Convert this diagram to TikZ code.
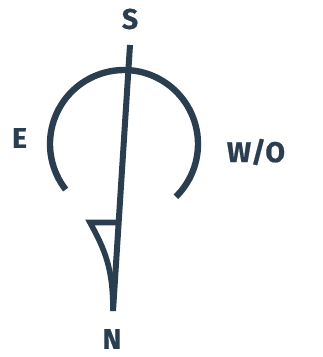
\documentclass[tikz,border=0pt]{standalone}
\usepackage{fontspec}
\setmainfont{Fira Sans}[BoldFont={Fira Sans Bold},BoldFeatures={FakeBold=0.6}]
\definecolor{ink}{HTML}{2B3E50}
\begin{document}
\begin{tikzpicture}[x=1pt,y=-1pt,
  stroke/.style={draw=ink,line width=6.4pt,line cap=butt},
  thinstroke/.style={draw=ink,line width=5.6pt,line join=miter,line cap=butt},
  lab/.style={text=ink,font=\fontsize{28.5}{28.5}\selectfont\bfseries,inner sep=0pt}]
\useasboundingbox (0,0) rectangle (323,357);
\coordinate (top) at (130,45);
\coordinate (bot) at (113,311);
\draw[stroke] plot[smooth,domain=218:-45.5,samples=80] ({124+74*cos(\x)},{144-74*sin(\x)});
\draw[stroke,line width=6pt] (top) -- (bot);
\draw[thinstroke] (118,222.5) -- (90,222.5) .. controls (105,250) and (113,268) .. (bot);
\node[lab] (s) at (130,19) {S};
\node[lab] (e) at (19.5,138) {E};
\node[lab] (w) at (256,152) {W/O};
\node[lab] (n) at (112,339) {N};
\end{tikzpicture}
\end{document}
